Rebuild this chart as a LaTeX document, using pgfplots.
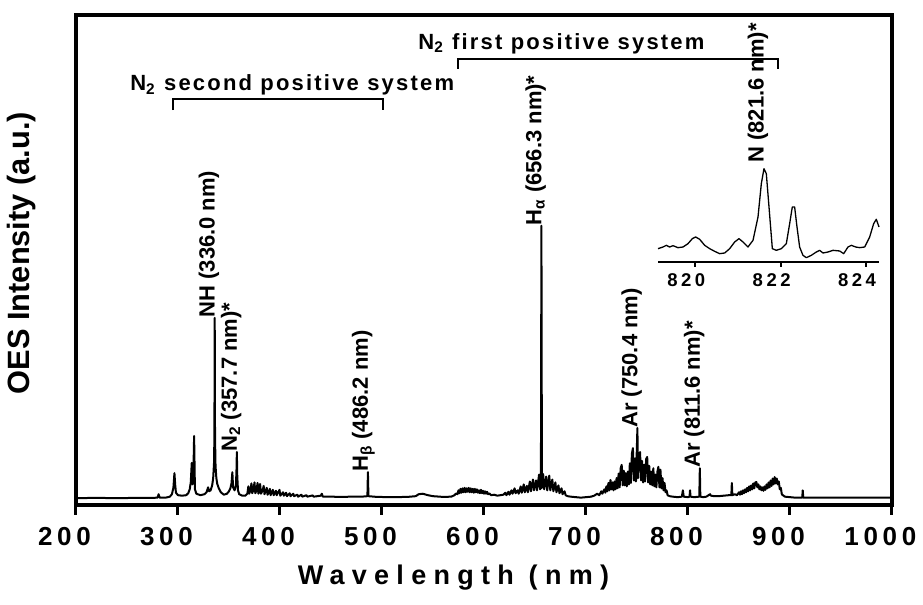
\documentclass[border=0pt]{standalone}
\usepackage{pgfplots}
\pgfplotsset{compat=1.18}
\usepackage{fontspec}
\setmainfont{Liberation Sans}

% fonts used in the figure
\newcommand\tickfont{\fontsize{13}{15}\selectfont\bfseries\addfontfeature{LetterSpace=18}}
\newcommand\xlabfont{\fontsize{13.5}{16}\selectfont\bfseries\addfontfeature{LetterSpace=27}}
\newcommand\ylabfont{\fontsize{15.4}{18}\selectfont\bfseries}
\newcommand\annfont{\fontsize{11}{13}\selectfont\bfseries}
\newcommand\bandfont{\fontsize{11}{13}\selectfont\bfseries\addfontfeature{LetterSpace=10}}
\newcommand\insetfont{\fontsize{9.25}{11}\selectfont\bfseries\addfontfeature{LetterSpace=19}}

\begin{document}
\begin{tikzpicture}
\begin{axis}[
  at={(0,0)}, anchor=south west,
  scale only axis, width=408pt, height=245pt,
  xmin=200, xmax=1000, ymin=0, ymax=100,
  xtick={200,300,400,500,600,700,800,900,1000},
  xticklabels={200,300,400,500,600,700,800,900,1000},
  ytick=\empty,
  xtick pos=bottom, tick align=outside,
  major tick length=5pt,
  every tick/.style={black, line width=1.5pt},
  axis line style={line width=1.75pt},
  xticklabel style={font=\tickfont, anchor=north, inner sep=0pt, yshift=-6pt, xshift=-5.8pt},
  xlabel={Wavelength (nm)},
  xlabel style={font=\xlabfont, at={(axis description cs:0.4626,-0.149)}, anchor=center},
  ylabel={OES Intensity (a.u.)},
  ylabel style={font=\ylabfont, at={(axis description cs:-0.0662,0.514)}, anchor=center, rotate=0},
  clip mode=individual,
]
\addplot[black, line width=1pt, line join=round] coordinates {
(200,1.4) (220,1.45) (240,1.4) (260,1.45) (275,1.45) (280,1.5) (281,2.2) (282,1.5)
(288,1.5) (292,1.7) (294,2.2) (295.5,3.5) (296.5,6.5) (297.3,4.0) (298,2.5) (300,2.0)
(304,1.9) (308,2.0) (310,2.4) (311.5,3.2) (312.5,4.6) (313.5,8.6) (314.2,4.2) (315,5.4)
(315.8,14.1) (316.6,3.2) (318,2.3) (322,2.0) (326,2.2) (328,2.6) (329.5,3.6) (330.5,2.8)
(332,3.0) (333.5,4.0) (334.5,5.5) (335.3,8.5) (335.7,14) (336.0,38.2) (336.3,14) (336.8,8.0)
(337.6,5.5) (338.5,4.3) (340,3.4) (342,2.6) (345,2.1) (348,2.3) (350,2.8) (351.5,3.5)
(352.5,4.5) (353.3,6.7) (354,3.6) (355.5,3.0) (356.8,4.0) (357.4,7.5) (357.7,10.8) (358.1,6.0)
(358.8,3.0) (360,2.2) (363,1.9) (366,1.9) (368,2.3) (369,3.8) (369.8,2.3) (371,3.0)
(372,4.4) (372.8,2.4) (374,3.2) (375,4.6) (375.8,2.4) (377,3.0) (378,4.5) (378.8,2.3)
(380.5,4.3) (381.3,2.3) (383,3.0) (384,3.9) (384.8,2.2) (387,3.5) (387.8,2.1) (389,2.6)
(390,3.3) (390.8,2.0) (393,3.1) (393.8,2.0) (396,2.9) (396.8,2.0) (399.5,3.1) (400.3,1.9)
(403,2.6) (403.8,1.9) (406,2.5) (406.8,1.8) (409.5,2.4) (410.3,1.8) (413,2.3) (413.8,1.8)
(417,2.1) (417.8,1.7) (421,2.1) (421.8,1.7) (426,2.0) (426.8,1.7) (432,1.95) (433,1.7)
(440,1.9) (441,2.3) (442,1.7) (450,1.7) (460,1.65) (470,1.7) (480,1.7) (485.7,1.8)
(486.2,6.7) (486.7,1.8) (495,1.65) (510,1.6) (525,1.65) (533,1.8) (536,2.2) (540,2.3)
(545,2.0) (550,1.8) (560,1.65) (568,1.7) (571,2.0) (573,2.4)
(574,2.2) (575,3.0) (576,2.4) (577,3.3) (578,2.5) (579,3.4) (580,2.6) (581,3.5)
(582,2.6) (583,3.4) (584,2.7) (585,3.5) (586,2.6) (587,3.4) (588,2.6) (589,3.3)
(590,2.5) (591,3.3) (592,2.6) (593,3.2) (594,2.5) (595,3.0) (596,2.4) (597,3.1)
(598,2.4) (599,2.9) (600,2.3) (601,2.8) (602,2.3) (603,2.7) (604,2.2) (605,2.4)
(607,2.0) (610,2.1) (613,1.9) (616,2.0) (619,2.1) (621,2.5) (622,2.0) (624,2.7)
(625,2.1) (627,3.0) (628,2.3) (630,3.4) (631,2.4) (633,3.0) (634,2.3) (636,3.8)
(637,2.5) (639,4.2) (640,2.6) (642,3.9) (643,2.6) (645,4.8) (646,2.8) (648,5.2)
(649,3.0) (651,5.0) (652,3.0) (654,6.2) (655,3.2) (655.8,3.5) (656.3,57) (656.8,3.5)
(658,6.3) (659,3.2) (661,5.8) (662,3.0) (664,6.0) (665,3.0) (667,5.2) (668,2.8)
(670,4.6) (671,2.6) (673,4.0) (674,2.4) (676,3.4) (677,2.2) (679,2.8) (680,2.0)
(682,1.8) (685,1.7) (690,1.6) (695,1.5) (700,1.6) (705,1.7) (708,1.9) (711,2.3)
(713,2.0) (715,2.8) (716,2.3) (718,3.2) (719,2.5) (720,3.8) (721,2.8) (722,4.5)
(723,3.0) (724,5.1) (725,3.2) (726,4.6) (727,3.0) (728,4.8) (729,3.2) (730,5.5)
(731,3.4) (732,6.4) (733,3.6) (734,7.5) (735,8.2) (736,4.0) (737,7.0) (738,4.0)
(739,6.5) (740,3.8) (741,6.8) (742,4.2) (743,8.5) (744,4.5) (745,10.5) (746,11.6)
(747,5.0) (748,9.5) (749,4.8) (750.4,15.7) (751,5.5) (752,10.0) (753,10.8) (754,5.0)
(755,9.0) (756,4.6) (757,8.2) (758,4.8) (759,9.4) (760,9.8) (761,4.6) (762,8.0)
(763,4.2) (764,6.8) (765,4.0) (766,7.5) (767,3.8) (768,6.2) (769,3.6) (770,6.8)
(771,7.8) (772,3.6) (773,7.2) (774,3.4) (775,5.5) (776,3.0) (777,4.5) (778,2.6)
(779,3.0) (780,2.0) (782,1.8) (785,1.7) (790,1.6) (794,1.7) (795,3.0) (795.8,1.7)
(800,1.6) (801.5,1.7) (802,3.0) (802.5,1.7) (806,1.6) (811.1,1.7) (811.6,7.5) (812.1,1.7)
(815,1.6) (818,1.7) (821.6,2.2) (822.5,1.9) (826,1.8) (830,1.8) (835,1.9) (840,2.0)
(842.5,2.0) (843,4.5) (843.5,2.0) (846,2.2) (848,2.0)
(850,2.6) (851,2.1) (852,2.8) (853,2.2) (854,3.0) (855,2.4) (856,3.2) (857,2.6)
(858,3.5) (859,2.8) (860,3.8) (861,3.0) (862,4.0) (863,3.2) (864,4.4) (865,3.4)
(866,4.6) (867,4.7) (868,3.6) (869,4.2) (870,3.2) (871,3.8) (872,3.0) (873,3.6)
(874,2.9) (875,3.8) (876,3.1) (877,4.2) (878,3.4) (879,4.6) (880,3.6) (881,5.0)
(882,3.9) (883,5.4) (884,4.2) (885,5.7) (886,4.4) (887,5.4) (888,4.2) (889,4.8)
(890,3.2) (891,3.5) (892,2.2) (893,2.0) (895,1.7) (900,1.6) (905,1.5) (912,1.5)
(912.5,3.0) (913,1.5) (920,1.5) (940,1.5) (960,1.5) (980,1.5) (1000,1.5)
};
% band brackets
\draw[line width=0.85pt] (axis cs:295.1,80.6) -- (axis cs:295.1,82.86) -- (axis cs:501,82.86) -- (axis cs:501,80.6);
\draw[line width=0.85pt] (axis cs:574.5,89.0) -- (axis cs:574.5,91.0) -- (axis cs:888.2,91.0) -- (axis cs:888.2,89.0);
\node[anchor=base west, inner sep=0pt, font=\bandfont] at (axis cs:252.9,84.5) {N\textsubscript{2} second positive system};
\node[anchor=base west, inner sep=0pt, font=\bandfont] at (axis cs:535.3,93.06) {N\textsubscript{2} first positive system};
% line assignments
\node[rotate=90, anchor=base west, inner sep=0pt, font=\annfont] at (axis cs:336.0,38.2) {NH (336.0 nm)};
\node[rotate=90, anchor=base west, inner sep=0pt, font=\annfont] at (axis cs:357.7,10.8) {N\textsubscript{2} (357.7 nm)*};
\node[rotate=90, anchor=base west, inner sep=0pt, font=\annfont] at (axis cs:486.2,6.7) {H\textsubscript{β} (486.2 nm)};
\node[rotate=90, anchor=base west, inner sep=0pt, font=\annfont] at (axis cs:656.3,57) {H\textsubscript{α} (656.3 nm)*};
\node[rotate=90, anchor=base west, inner sep=0pt, font=\annfont] at (axis cs:750.4,15.7) {Ar (750.4 nm)};
\node[rotate=90, anchor=base west, inner sep=0pt, font=\annfont] at (axis cs:811.6,7.5) {Ar (811.6 nm)*};
\end{axis}

% inset: N line region
\begin{axis}[
  at={(291pt,121.5pt)}, anchor=south west,
  scale only axis, width=110.5pt, height=50pt,
  xmin=819.125, xmax=824.305, ymin=0, ymax=300,
  axis x line=bottom, axis y line=none,
  axis line style={-, line width=1pt},
  xtick={820,822,824}, xticklabels={820,822,824},
  tick align=outside, major tick length=2.5pt,
  every tick/.style={black, line width=1pt},
  xticklabel style={font=\insetfont, anchor=north, inner sep=0pt, yshift=-3pt, xshift=-4.5pt},
  clip=false,
]
\addplot[black, line width=0.65pt, line join=round] coordinates {
(819.125,40) (819.242,45) (819.320,50) (819.398,45) (819.477,49) (819.594,43) (819.711,45)
(819.828,55) (819.930,70) (820.008,75) (820.102,68) (820.219,50) (820.336,40) (820.453,32)
(820.570,25) (820.688,27) (820.805,40) (820.922,60) (821.023,70) (821.117,60) (821.234,45)
(821.352,65) (821.469,135) (821.547,235) (821.609,280) (821.664,265) (821.727,165) (821.805,40)
(821.898,35) (822.016,40) (822.133,55) (822.211,115) (822.273,165) (822.328,165) (822.383,105)
(822.445,45) (822.523,20) (822.602,13) (822.719,20) (822.836,30) (822.914,35) (822.992,27)
(823.109,30) (823.227,35) (823.383,33) (823.477,25) (823.578,45) (823.656,50) (823.758,45)
(823.852,43) (823.969,45) (824.086,75) (824.180,115) (824.242,128) (824.305,105)
};
\node[rotate=90, anchor=base west, inner sep=0pt, font=\annfont] at (axis cs:821.6,297) {N (821.6 nm)*};
\end{axis}
% the page: fixed frame around the axes and their labels
\pgfresetboundingbox
\path[use as bounding box] (-38pt,-50pt) rectangle (423.5pt,252.5pt);
\end{tikzpicture}
\end{document}
